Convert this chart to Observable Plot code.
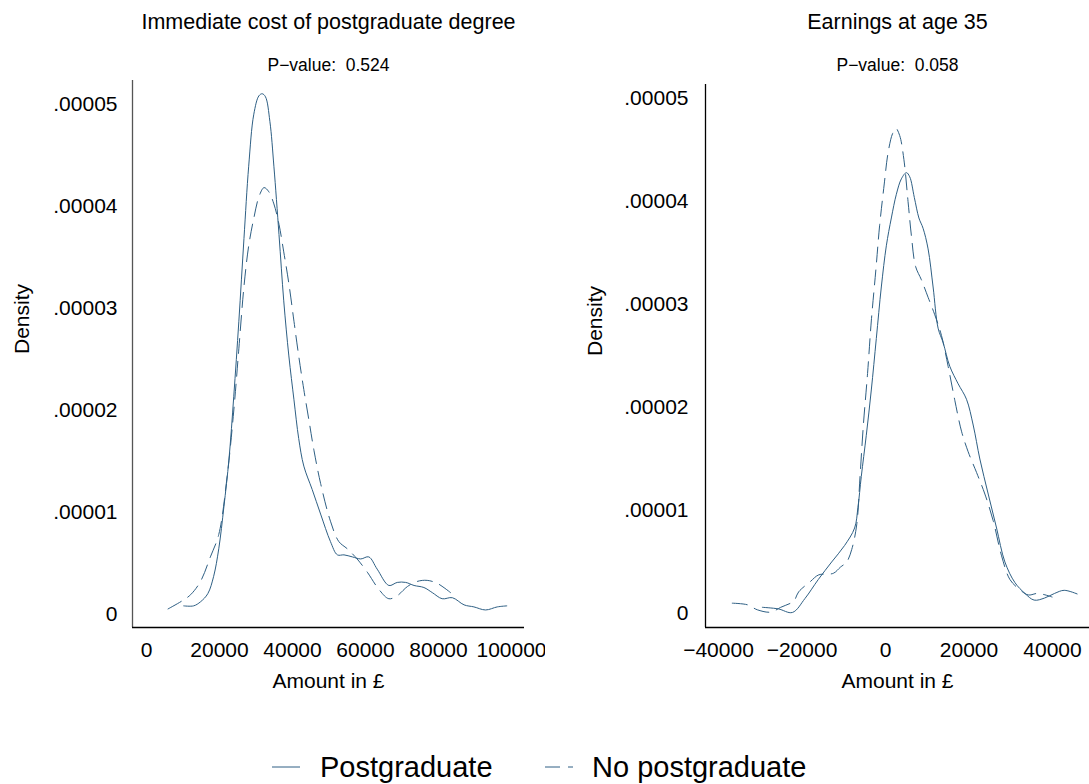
<!DOCTYPE html>
<html>
<head>
<meta charset="utf-8">
<script src="https://cdn.jsdelivr.net/npm/d3@7"></script>
<script src="https://cdn.jsdelivr.net/npm/@observablehq/plot@0.6"></script>
<style>
  body { margin: 0; background: #fff; overflow: hidden; }
  #chart { position: relative; width: 1089px; height: 784px; background: #fff;
           font-family: "Liberation Sans", Arial, Helvetica, sans-serif; color: #000; }
  #chart svg.panel { position: absolute; top: 0; }
  .leg { position: absolute; font-size: 29px; line-height: 29px; white-space: nowrap; }
</style>
</head>
<body>
<div id="chart"></div>
<script>
// panel texts
const titles = ["Immediate cost of postgraduate degree", "Earnings at age 35"]
const pvalues = ["P\u2212value:  0.524", "P\u2212value:  0.058"]
const xLabel = "Amount in \u00a3"
const yLabel = "Density"
const seriesNames = ["Postgraduate", "No postgraduate"]

// tick values
const yTicks = [0, 0.00001, 0.00002, 0.00003, 0.00004, 0.00005]
const costTicks = [0, 20000, 40000, 60000, 80000, 100000]
const earnTicks = [-40000, -20000, 0, 20000, 40000]

// immediate cost, postgraduate (density in units of 1e-5)
const costPgX = [10200, 12900, 14800, 16800, 18400, 19800, 21200, 22600, 23900, 25300, 26700, 28000, 29400, 30800, 31700, 32600, 33800, 34900, 36300, 37600, 39000, 40400, 41700, 43100, 45400, 47700, 50400, 52300, 54100, 56400, 58700, 60900, 63200, 66400, 68700, 71000, 73300, 76000, 78300, 81000, 83800, 87000, 89700, 92900, 96100, 98700]
const costPgY = [0.08, 0.08, 0.12, 0.20, 0.37, 0.64, 1.05, 1.52, 2.13, 2.87, 3.68, 4.39, 4.90, 5.08, 5.10, 5.07, 4.83, 4.39, 3.72, 3.07, 2.53, 2.10, 1.72, 1.45, 1.22, 0.98, 0.71, 0.58, 0.58, 0.56, 0.54, 0.56, 0.44, 0.28, 0.31, 0.31, 0.28, 0.26, 0.21, 0.15, 0.16, 0.09, 0.07, 0.04, 0.07, 0.08]
// immediate cost, no postgraduate
const costNoX = [5900, 9800, 12100, 14800, 17500, 19800, 22100, 23900, 25300, 26700, 28000, 29400, 30800, 32200, 33500, 34900, 36300, 37600, 39000, 40400, 41700, 43100, 44500, 45900, 47700, 50400, 52700, 55000, 57700, 60500, 63700, 66400, 68700, 71500, 74200, 76900, 79700, 83300]
const costNoY = [0.05, 0.13, 0.19, 0.32, 0.56, 0.78, 1.35, 1.99, 2.60, 3.21, 3.61, 3.88, 4.09, 4.18, 4.14, 4.02, 3.82, 3.55, 3.24, 2.87, 2.53, 2.20, 1.90, 1.60, 1.28, 0.91, 0.71, 0.64, 0.54, 0.41, 0.24, 0.15, 0.18, 0.27, 0.32, 0.33, 0.30, 0.21]

// earnings at 35, postgraduate
const earnPgX = [-29500, -25700, -22300, -19300, -16100, -12900, -9800, -7400, -6600, -5800, -4600, -3400, -2200, -1000, 200, 1400, 2600, 3800, 5000, 5800, 6900, 8000, 9000, 10200, 11400, 12600, 13800, 15400, 17400, 19400, 21000, 22600, 24600, 26600, 28600, 31000, 33400, 35600, 38100, 40500, 42800, 45900]
const earnPgY = [0.06, 0.045, 0.01, 0.145, 0.33, 0.50, 0.66, 0.83, 1.03, 1.33, 1.73, 2.17, 2.67, 3.17, 3.57, 3.84, 4.07, 4.22, 4.28, 4.24, 4.04, 3.84, 3.74, 3.54, 3.17, 2.77, 2.63, 2.40, 2.23, 2.08, 1.83, 1.50, 1.16, 0.83, 0.50, 0.30, 0.195, 0.13, 0.15, 0.195, 0.225, 0.19]
// earnings at 35, no postgraduate
const earnNoX = [-36700, -33100, -30700, -27500, -25100, -22000, -20800, -18000, -16000, -12500, -10800, -9300, -8100, -6900, -6100, -5300, -4300, -3400, -2300, -1400, -300, 600, 1700, 2500, 3400, 4400, 5400, 6200, 7200, 8600, 10200, 11800, 13400, 15000, 16600, 18200, 19800, 21800, 23800, 25800, 27800, 29800, 32200, 34200, 36500, 39900]
const earnNoY = [0.10, 0.085, 0.036, 0.013, 0.06, 0.12, 0.21, 0.31, 0.375, 0.39, 0.45, 0.50, 0.62, 0.86, 1.33, 1.83, 2.33, 2.84, 3.34, 3.77, 4.17, 4.47, 4.66, 4.71, 4.64, 4.41, 4.00, 3.67, 3.37, 3.24, 3.07, 2.90, 2.70, 2.40, 2.07, 1.77, 1.57, 1.37, 1.16, 0.90, 0.56, 0.33, 0.23, 0.18, 0.195, 0.16]

const lineColor = "#2e5f84"
const dash = "15,8"

// build rows for one panel
function rows(xs, ys, group) {
  return xs.map((x, i) => ({x: x, y: ys[i] * 1e-5, group: group}))
}

const fmtY = d => d === 0 ? "0" : d3.format(".5f")(d).replace(/^0/, "")
const fmtX = d3.format("d")

function panel(opts) {
  const data = rows(opts.pgX, opts.pgY, seriesNames[0]).concat(rows(opts.noX, opts.noY, seriesNames[1]))
  let chart = Plot.plot({
    width: opts.width,
    height: 700,
    marginLeft: opts.marginLeft,
    marginRight: opts.marginRight,
    marginTop: opts.marginTop,
    marginBottom: 73,
    x: {domain: opts.xDomain},
    y: {domain: opts.yDomain},
    style: {
      fontFamily: '"Liberation Sans", Arial, Helvetica, sans-serif',
      fontSize: '21px',
      background: 'white',
      color: 'black',
      overflow: 'visible',
    },
    marks: [
      Plot.ruleX([opts.xDomain[0]], {stroke: opts.yAxisColor, strokeWidth: 1.3}),
      Plot.ruleY([opts.yDomain[0]], {stroke: 'black', strokeWidth: 1.3}),
      Plot.axisX({ticks: opts.xTicks, tickSize: 0, tickPadding: 15, tickFormat: fmtX, label: null}),
      Plot.axisY({ticks: yTicks, tickSize: 0, tickPadding: opts.yPad, tickFormat: fmtY, label: null}),
      // curves
      Plot.line(data.filter(d => d.group === seriesNames[0]), {
        x: 'x', y: 'y', stroke: lineColor, strokeWidth: 1, curve: 'catmull-rom'
      }),
      Plot.line(data.filter(d => d.group === seriesNames[1]), {
        x: 'x', y: 'y', stroke: lineColor, strokeWidth: 1, strokeDasharray: dash, curve: 'catmull-rom'
      }),
      // titles and axis labels in the margins
      Plot.text([opts.title], {text: d => d, frameAnchor: 'top', lineAnchor: 'bottom', dy: 28 - opts.marginTop, fontSize: 21.5}),
      Plot.text([opts.pvalue], {text: d => d, frameAnchor: 'top', lineAnchor: 'bottom', dy: 70 - opts.marginTop, fontSize: 17.5}),
      Plot.text([xLabel], {text: d => d, frameAnchor: 'bottom', lineAnchor: 'bottom', dy: 60, fontSize: 21}),
      Plot.text([yLabel], {text: d => d, frameAnchor: 'left', rotate: -90, dx: -110, fontSize: 21}),
    ]
  })
  chart.classList.add('panel')
  chart.style.left = opts.left + 'px'
  return chart
}

const root = d3.select('#chart')

root.append(() => panel({
  title: titles[0], pvalue: pvalues[0],
  pgX: costPgX, pgY: costPgY, noX: costNoX, noY: costNoY,
  xTicks: costTicks, xDomain: [-3836, 103560], yDomain: [-0.132e-5, 5.23e-5],
  left: 0, width: 545, marginLeft: 132, marginRight: 21, marginTop: 80,
  yPad: 15, yAxisColor: '#555'
}))

root.append(() => panel({
  title: titles[1], pvalue: pvalues[1],
  pgX: earnPgX, pgY: earnPgY, noX: earnNoX, noY: earnNoY,
  xTicks: earnTicks, xDomain: [-43114, 48862], yDomain: [-0.136e-5, 5.136e-5],
  left: 545, width: 544, marginLeft: 160, marginRight: 0, marginTop: 84,
  yPad: 17, yAxisColor: 'black'
}))

// legend below the panels
function legendItem(x, textX, name, dashed) {
  root.append('svg')
    .attr('width', 28).attr('height', 14)
    .style('position', 'absolute').style('left', x + 'px').style('top', '760px')
    .append('line')
    .attr('x1', 0).attr('x2', 28).attr('y1', 7).attr('y2', 7)
    .attr('stroke', lineColor).attr('stroke-width', 1)
    .attr('stroke-dasharray', dashed ? dash : null)
  root.append('div').attr('class', 'leg')
    .style('left', textX + 'px').style('top', '753px')
    .text(name)
}
legendItem(272, 320, seriesNames[0], false)
legendItem(545, 592, seriesNames[1], true)
</script>
</body>
</html>
